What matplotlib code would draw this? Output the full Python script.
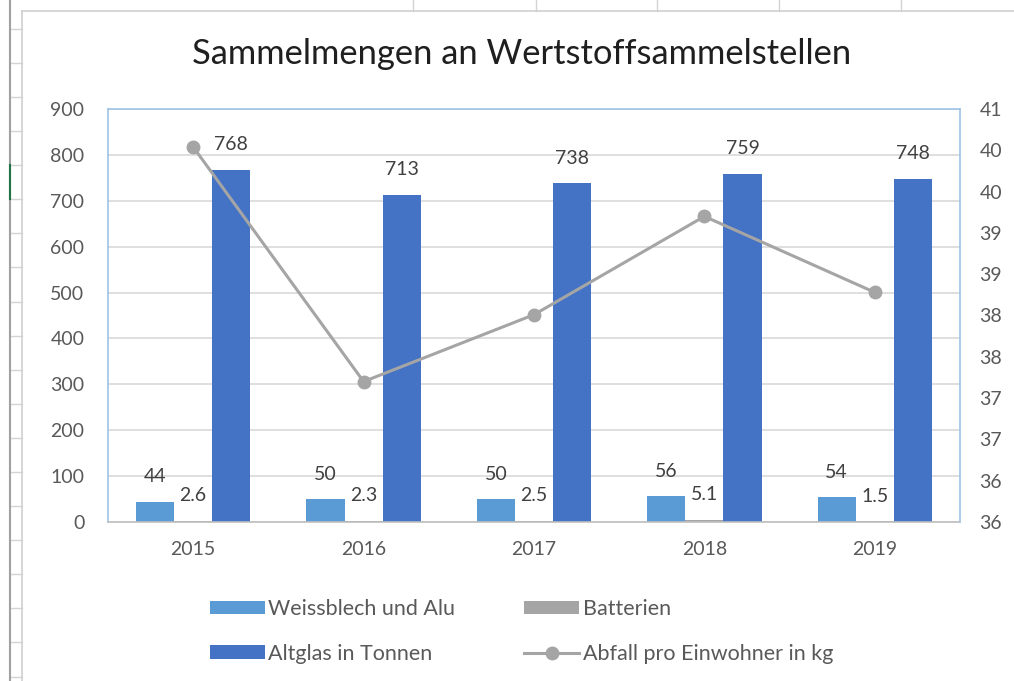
import matplotlib
matplotlib.use("Agg")
import matplotlib.pyplot as plt
from matplotlib.lines import Line2D
from matplotlib.ticker import FixedLocator, FixedFormatter
import numpy as np

plt.rcParams['font.family'] = ['Lato', 'DejaVu Sans']

# ---------------- data ----------------
years = ["2015", "2016", "2017", "2018", "2019"]
weissblech = [44, 50, 50, 56, 54]
batterien = [2.6, 2.3, 2.5, 5.1, 1.5]
altglas = [768, 713, 738, 759, 748]
abfall_pro_einwohner = [40.54, 37.70, 38.51, 39.70, 38.78]

left_ticks = [0, 100, 200, 300, 400, 500, 600, 700, 800, 900]
right_ticks = [36.0, 36.5, 37.0, 37.5, 38.0, 38.5, 39.0, 39.5, 40.0, 40.5, 41.0]
right_tick_labels = ["36", "36", "37", "37", "38", "38", "39", "39", "40", "40", "41"]

title = "Sammelmengen an Wertstoffsammelstellen"
series_names = ["Weissblech und Alu", "Batterien", "Altglas in Tonnen",
                "Abfall pro Einwohner in kg"]

# ---------------- style ----------------
c_weiss = "#5B9BD5"
c_batt = "#A5A5A5"
c_alt = "#4472C4"
c_line = "#A5A5A5"
c_text = "#595959"
c_label = "#404040"
c_grid = "#D9D9D9"
c_border = "#9DC3E6"

W, H = 1014, 681
fig = plt.figure(figsize=(W / 100, H / 100), dpi=100)
fig.patch.set_facecolor("white")


def px(x, y):
    return x / W, 1 - y / H


def fline(x0, y0, x1, y1, color="#D4D4D4", lw=1.0):
    (a, b), (c, d) = px(x0, y0), px(x1, y1)
    fig.add_artist(Line2D([a, c], [b, d], transform=fig.transFigure,
                          color=color, lw=lw, zorder=0))


# spreadsheet background hints
for cx in [413, 536, 657, 779, 901]:
    fline(cx, 0, cx, 11)
for ry in [29, 63, 97, 131, 165, 199, 233, 267, 302, 336, 370, 404, 438,
           472, 506, 540, 574, 608, 642, 677]:
    fline(10, ry, 22, ry)
fline(10, 0, 10, H, color="#A0A0A0", lw=1.5)
fline(10, 165, 10, 199, color="#217346", lw=1.5)
fline(22, 11, 22, H, color="#D0D0D0", lw=1.2)
fline(22, 11, W, 11, color="#D0D0D0", lw=1.2)

# axes
l, r, t, b = 108, 960, 109, 522
ax = fig.add_axes([l / W, 1 - b / H, (r - l) / W, (b - t) / H])
ax.set_zorder(1)

x = np.arange(len(years))
w = 0.224
bars1 = ax.bar(x - w, weissblech, w, color=c_weiss, label=series_names[0], zorder=2)
bars2 = ax.bar(x, batterien, w, color=c_batt, label=series_names[1], zorder=2)
bars3 = ax.bar(x + w, altglas, w, color=c_alt, label=series_names[2], zorder=2)

ax.set_xlim(-0.5, len(years) - 0.5)
ax.set_ylim(0, 900)
ax.set_yticks(left_ticks)
ax.set_xticks(x)
ax.set_xticklabels(years)
ax.yaxis.grid(True, color=c_grid, lw=1.2, zorder=0)
ax.set_axisbelow(True)
ax.tick_params(axis="both", length=0, colors=c_text, labelsize=14)
ax.tick_params(axis="x", pad=14)
ax.tick_params(axis="y", pad=17)
for s in ["left", "top", "right"]:
    ax.spines[s].set_color(c_border)
    ax.spines[s].set_linewidth(1.2)
ax.spines["bottom"].set_color("#BFBFBF")
ax.spines["bottom"].set_linewidth(1.2)

for bars, vals, fmt in [(bars1, weissblech, "{:g}"), (bars2, batterien, "{:.1f}"),
                        (bars3, altglas, "{:g}")]:
    for rect, v in zip(bars, vals):
        ax.annotate(fmt.format(v), (rect.get_x() + rect.get_width() / 2, v),
                    xytext=(0, 18), textcoords="offset points",
                    ha="center", va="center", fontsize=14, color=c_label)

ax2 = ax.twinx()
ax2.set_zorder(2)
ln, = ax2.plot(x, abfall_pro_einwohner, color=c_line, lw=2.2, marker="o",
               markersize=9, label=series_names[3])
ax2.set_ylim(36, 41)
ax2.yaxis.set_major_locator(FixedLocator(right_ticks))
ax2.yaxis.set_major_formatter(FixedFormatter(right_tick_labels))
ax2.tick_params(axis="y", length=0, colors=c_text, labelsize=14, pad=14)
for s in ax2.spines.values():
    s.set_visible(False)

fig.text(522 / W, 1 - 54 / H, title, ha="center", va="center",
         fontsize=24.8, color="#1F1F1F")

handles = [bars1, bars3, bars2, ln]
labels = [series_names[0], series_names[2], series_names[1], series_names[3]]
leg = fig.legend(handles, labels, loc="upper left", ncol=2,
                 bbox_to_anchor=px(210, 599), frameon=False, fontsize=15.5,
                 handlelength=2.56, handleheight=0.6, handletextpad=0.15,
                 columnspacing=3.2, labelspacing=1.15, borderpad=0,
                 borderaxespad=0)
for txt in leg.get_texts():
    txt.set_color(c_text)

fig.savefig("out.png", dpi=100)
